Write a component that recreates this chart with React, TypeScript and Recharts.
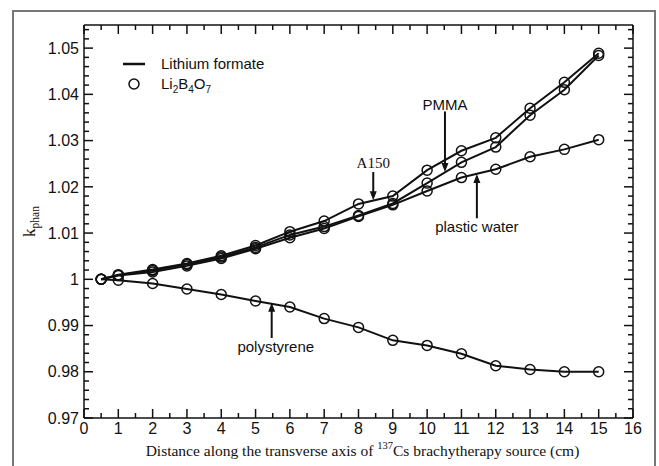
import {
  ComposedChart,
  Line,
  XAxis,
  YAxis,
  Legend,
  ReferenceLine,
  ReferenceDot,
} from 'recharts'

// distance along the transverse axis (cm)
const distances = [0.5, 1, 2, 3, 4, 5, 6, 7, 8, 9, 10, 11, 12, 13, 14, 15]

// k_phan per phantom material
const a150 = [1.0, 1.001, 1.0021, 1.0034, 1.0051, 1.0073, 1.0103, 1.0126, 1.0163, 1.018, 1.0236, 1.0278, 1.0306, 1.037, 1.0426, 1.0489]
const pmma = [1.0, 1.0009, 1.0019, 1.0032, 1.0048, 1.0069, 1.0096, 1.0114, 1.0138, 1.0164, 1.0208, 1.0253, 1.0286, 1.0355, 1.041, 1.0484]
const plasticWater = [1.0, 1.0008, 1.0016, 1.0029, 1.0045, 1.0066, 1.009, 1.011, 1.0136, 1.0161, 1.0191, 1.022, 1.0238, 1.0265, 1.0281, 1.0302]
const polystyrene = [1.0, 0.9998, 0.9991, 0.9979, 0.9967, 0.9953, 0.994, 0.9915, 0.9896, 0.9868, 0.9857, 0.9839, 0.9813, 0.9805, 0.98, 0.98]

const xMajorTicks = [0, 1, 2, 3, 4, 5, 6, 7, 8, 9, 10, 11, 12, 13, 14, 15, 16]
const xMinorTicks = [0.5, 1.5, 2.5, 3.5, 4.5, 5.5, 6.5, 7.5, 8.5, 9.5, 10.5, 11.5, 12.5, 13.5, 14.5, 15.5]
const yMajorTicks = [0.97, 0.98, 0.99, 1, 1.01, 1.02, 1.03, 1.04, 1.05]
const yMinorTicks = [
  0.972, 0.974, 0.976, 0.978, 0.982, 0.984, 0.986, 0.988,
  0.992, 0.994, 0.996, 0.998, 1.002, 1.004, 1.006, 1.008,
  1.012, 1.014, 1.016, 1.018, 1.022, 1.024, 1.026, 1.028,
  1.032, 1.034, 1.036, 1.038, 1.042, 1.044, 1.046, 1.048,
  1.052, 1.054,
]

// arrow annotations: label baseline point and arrow from y1 to y2 at x = ax
const annotations = [
  { text: 'A150', serif: true, lx: 8.43, ly: 1.024, ax: 8.43, y1: 1.0232, y2: 1.0171 },
  { text: 'PMMA', serif: false, lx: 10.52, ly: 1.0367, ax: 10.52, y1: 1.0363, y2: 1.0232 },
  { text: 'plastic water', serif: false, lx: 11.45, ly: 1.0103, ax: 11.45, y1: 1.0132, y2: 1.0228 },
  { text: 'polystyrene', serif: false, lx: 5.59, ly: 0.9843, ax: 5.47, y1: 0.9873, y2: 0.9949 },
]

const rows = distances.map((d, i) => ({
  d,
  a150: a150[i],
  pmma: pmma[i],
  plasticWater: plasticWater[i],
  polystyrene: polystyrene[i],
}))

const INK = '#111'
const SANS = '"Liberation Sans", Arial, sans-serif'
const SERIF = '"Liberation Serif", "Times New Roman", serif'
const xTicks = [...xMajorTicks, ...xMinorTicks]
const yTicks = [...yMajorTicks, ...yMinorTicks]

// ticks point inward, labels only on bottom/left
function BottomTick({ x, y, payload }: any) {
  const major = xMajorTicks.includes(payload.value)
  return (
    <g>
      <line x1={x} y1={y} x2={x} y2={y - (major ? 9 : 5)} stroke={INK} strokeWidth={1.5} />
      {major && (
        <text x={x} y={y + 15.5} textAnchor="middle" fontSize={16} fontFamily={SANS} fill={INK}>
          {payload.value}
        </text>
      )}
    </g>
  )
}

function TopTick({ x, y, payload }: any) {
  const major = xMajorTicks.includes(payload.value)
  return <line x1={x} y1={y} x2={x} y2={y + (major ? 9 : 5)} stroke={INK} strokeWidth={1.5} />
}

function LeftTick({ x, y, payload }: any) {
  const major = yMajorTicks.includes(payload.value)
  return (
    <g>
      <line x1={x} y1={y} x2={x + (major ? 9 : 5)} y2={y} stroke={INK} strokeWidth={1.5} />
      {major && (
        <text x={x - 5} y={y + 5.7} textAnchor="end" fontSize={16} fontFamily={SANS} fill={INK}>
          {String(payload.value)}
        </text>
      )}
    </g>
  )
}

function RightTick({ x, y, payload }: any) {
  const major = yMajorTicks.includes(payload.value)
  return <line x1={x} y1={y} x2={x - (major ? 9 : 5)} y2={y} stroke={INK} strokeWidth={1.5} />
}

function ArrowShape({ x1, y1, x2, y2 }: any) {
  const dir = y2 > y1 ? 1 : -1
  return (
    <g>
      <line x1={x1} y1={y1} x2={x2} y2={y2 - dir * 6} stroke={INK} strokeWidth={2} />
      <polygon
        points={`${x2},${y2} ${x2 - 3.5},${y2 - dir * 9} ${x2 + 3.5},${y2 - dir * 9}`}
        fill={INK}
      />
    </g>
  )
}

function XTitle({ viewBox }: any) {
  const cx = viewBox.x + viewBox.width / 2 + 4
  return (
    <text x={cx} y={viewBox.y + 38} textAnchor="middle" fontSize={15.5} fontFamily={SERIF} fill={INK}>
      <tspan>Distance along the transverse axis of </tspan>
      <tspan dy={-7} fontSize={10.5}>137</tspan>
      <tspan dy={7}>Cs brachytherapy source (cm)</tspan>
    </text>
  )
}

function YTitle({ viewBox }: any) {
  const cx = viewBox.x + viewBox.width - 49
  const cy = viewBox.y + viewBox.height / 2
  return (
    <text
      x={cx}
      y={cy}
      transform={`rotate(-90, ${cx}, ${cy})`}
      textAnchor="middle"
      fontSize={17}
      fontFamily={SERIF}
      fill={INK}
    >
      k<tspan dy={4} fontSize={11.5}>phan</tspan>
    </text>
  )
}

function LegendBox() {
  const row = { display: 'flex', alignItems: 'center', height: 20 } as const
  const sub = { fontSize: 10, lineHeight: 0 }
  return (
    <div style={{ fontFamily: SANS, fontSize: 15, color: INK, lineHeight: '20px' }}>
      <div style={row}>
        <svg width={43} height={20}>
          <line x1={5} y1={10} x2={27} y2={10} stroke={INK} strokeWidth={2.5} />
        </svg>
        <span>Lithium formate</span>
      </div>
      <div style={row}>
        <svg width={43} height={20}>
          <circle cx={16} cy={10} r={5} fill="none" stroke={INK} strokeWidth={1.5} />
        </svg>
        <span>
          Li<sub style={sub}>2</sub>B<sub style={sub}>4</sub>O<sub style={sub}>7</sub>
        </span>
      </div>
    </div>
  )
}

const series = ['a150', 'pmma', 'plasticWater', 'polystyrene']

export default function App() {
  return (
    <div
      style={{
        position: 'absolute',
        left: 0,
        top: 0,
        width: 659,
        height: 466,
        overflow: 'hidden',
        background: '#fff',
      }}
    >
      <div
        style={{
          position: 'absolute',
          left: 12,
          top: 10,
          width: 644,
          height: 480,
          border: '2px solid #777',
          boxSizing: 'border-box',
        }}
      />
      <ComposedChart
        width={659}
        height={466}
        data={rows}
        margin={{ top: 24, right: 25, bottom: 47, left: 83 }}
        style={{ position: 'absolute', left: 0, top: 0 }}
      >
        <XAxis
          xAxisId="bottom"
          dataKey="d"
          type="number"
          domain={[0, 16]}
          ticks={xTicks}
          interval={0}
          height={1}
          tickSize={0}
          tickMargin={0}
          tickLine={false}
          tick={BottomTick}
          axisLine={{ stroke: INK, strokeWidth: 1.5 }}
          allowDataOverflow
          label={{ content: XTitle }}
        />
        <XAxis
          xAxisId="top"
          orientation="top"
          dataKey="d"
          type="number"
          domain={[0, 16]}
          ticks={xTicks}
          interval={0}
          height={1}
          tickSize={0}
          tickMargin={0}
          tickLine={false}
          tick={TopTick}
          axisLine={{ stroke: INK, strokeWidth: 1.5 }}
          allowDataOverflow
        />
        <YAxis
          yAxisId="left"
          type="number"
          domain={[0.97, 1.055]}
          ticks={yTicks}
          interval={0}
          width={1}
          tickSize={0}
          tickMargin={0}
          tickLine={false}
          tick={LeftTick}
          axisLine={{ stroke: INK, strokeWidth: 1.5 }}
          allowDataOverflow
          label={{ content: YTitle }}
        />
        <YAxis
          yAxisId="right"
          orientation="right"
          type="number"
          domain={[0.97, 1.055]}
          ticks={yTicks}
          interval={0}
          width={1}
          tickSize={0}
          tickMargin={0}
          tickLine={false}
          tick={RightTick}
          axisLine={{ stroke: INK, strokeWidth: 1.5 }}
          allowDataOverflow
        />
        <Legend
          layout="vertical"
          align="center"
          verticalAlign="middle"
          content={LegendBox}
          wrapperStyle={{ left: 118, top: 54, width: 200 }}
        />
        {series.map((key) => (
          <Line
            key={key}
            xAxisId="bottom"
            yAxisId="left"
            dataKey={key}
            type="linear"
            stroke={INK}
            strokeWidth={2}
            dot={{ r: 5, fill: 'none', stroke: INK, strokeWidth: 1.5 }}
            activeDot={false}
            isAnimationActive={false}
            legendType="none"
          />
        ))}
        {annotations.map((a) => (
          <ReferenceLine
            key={`arrow-${a.text}`}
            xAxisId="bottom"
            yAxisId="left"
            segment={[
              { x: a.ax, y: a.y1 },
              { x: a.ax, y: a.y2 },
            ]}
            shape={ArrowShape}
          />
        ))}
        {annotations.map((a) => (
          <ReferenceDot
            key={`label-${a.text}`}
            xAxisId="bottom"
            yAxisId="left"
            x={a.lx}
            y={a.ly}
            shape={({ cx, cy }: any) => (
              <text
                x={cx}
                y={cy}
                textAnchor="middle"
                fontSize={15}
                fontFamily={a.serif ? SERIF : SANS}
                fill={INK}
              >
                {a.text}
              </text>
            )}
          />
        ))}
      </ComposedChart>
    </div>
  )
}
